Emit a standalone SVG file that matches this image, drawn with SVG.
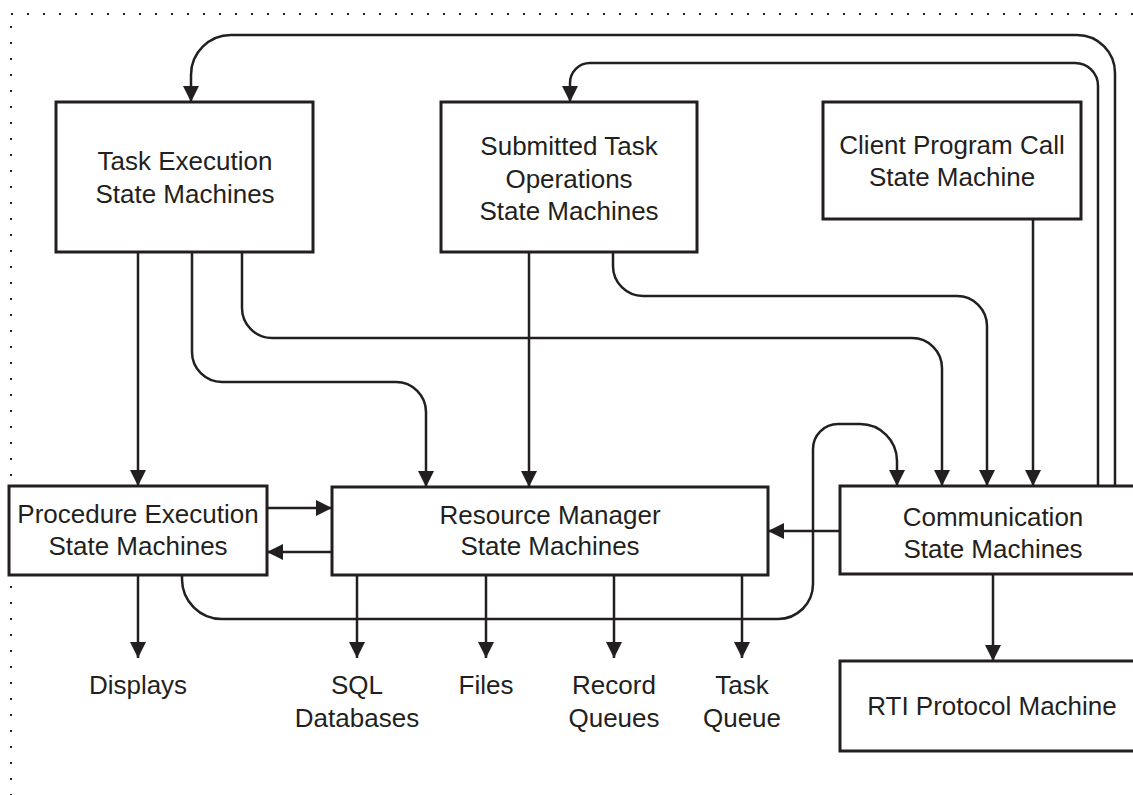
<svg xmlns="http://www.w3.org/2000/svg" width="1133" height="795" viewBox="0 0 1133 795">
  <style>
    .box { fill: #fff; stroke: #231f20; stroke-width: 3; }
    .lbl { font-family: "Liberation Sans", Arial, sans-serif; font-size: 26px; fill: #231f20; text-anchor: middle; }
    .con { fill: none; stroke: #231f20; stroke-width: 2.5; }
    .arr { marker-end: url(#ah); }
    .dots { fill: none; stroke: #231f20; stroke-width: 2; stroke-dasharray: 2 14; }
  </style>
  <defs>
    <marker id="ah" markerUnits="userSpaceOnUse" markerWidth="16" markerHeight="16" refX="16" refY="8" orient="auto">
      <path d="M0,0 L16,8 L0,16 z" fill="#231f20"/>
    </marker>
  </defs>
  <rect width="1133" height="795" fill="#fff"/>
  <g id="border">
    <path class="dots" d="M11,14 L1133,14"/>
    <path class="dots" d="M11,26 L11,795"/>
  </g>

  <g id="connectors">
    <path class="con arr" d="M1115,486 L1115,73 A38,38 0 0 0 1077,35 L231,35 A40,40 0 0 0 191,75 L191,102"/>
    <path class="con arr" d="M1098,486 L1098,86 A23,23 0 0 0 1075,63 L590,63 A20,20 0 0 0 570,83 L570,102"/>
    <path class="con arr" d="M138,252 L138,486"/>
    <path class="con arr" d="M192,252 L192,352 A30,30 0 0 0 222,382 L396,382 A30,30 0 0 1 426,412 L426,487"/>
    <path class="con arr" d="M242,252 L242,308 A30,30 0 0 0 272,338 L912,338 A30,30 0 0 1 942,368 L942,486"/>
    <path class="con arr" d="M529,252 L529,487"/>
    <path class="con arr" d="M613,252 L613,266 A30,30 0 0 0 643,296 L957,296 A30,30 0 0 1 987,326 L987,486"/>
    <path class="con arr" d="M1033,219 L1033,486"/>
    <path class="con arr" d="M182,575 L182,579 A40,40 0 0 0 222,619 L778,619 A35,35 0 0 0 813,584 L813,449 A25,25 0 0 1 838,424 L860,424 A37,37 0 0 1 897,461 L897,486"/>
    <path class="con arr" d="M267,508 L332,508"/>
    <path class="con arr" d="M332,552 L267,552"/>
    <path class="con arr" d="M840,531 L768,531"/>
    <path class="con arr" d="M138,575 L138,658"/>
    <path class="con arr" d="M357,575 L357,658"/>
    <path class="con arr" d="M486,575 L486,658"/>
    <path class="con arr" d="M614,575 L614,658"/>
    <path class="con arr" d="M742,575 L742,658"/>
    <path class="con arr" d="M993,574 L993,661"/>
  </g>

  <g id="task-execution">
    <rect class="box" x="56" y="102" width="257" height="150"/>
    <text class="lbl" x="185" y="170">Task Execution</text>
    <text class="lbl" x="185" y="203">State Machines</text>
  </g>
  <g id="submitted-task">
    <rect class="box" x="441" y="102" width="256" height="150"/>
    <text class="lbl" x="569" y="155">Submitted Task</text>
    <text class="lbl" x="569" y="188">Operations</text>
    <text class="lbl" x="569" y="220">State Machines</text>
  </g>
  <g id="client-program">
    <rect class="box" x="823" y="102" width="258" height="117"/>
    <text class="lbl" x="952" y="154">Client Program Call</text>
    <text class="lbl" x="952" y="186">State Machine</text>
  </g>
  <g id="procedure-execution">
    <rect class="box" x="9" y="486" width="258" height="89"/>
    <text class="lbl" x="138" y="523">Procedure Execution</text>
    <text class="lbl" x="138" y="555">State Machines</text>
  </g>
  <g id="resource-manager">
    <rect class="box" x="332" y="487" width="436" height="88"/>
    <text class="lbl" x="550" y="524">Resource Manager</text>
    <text class="lbl" x="550" y="555">State Machines</text>
  </g>
  <g id="communication">
    <rect class="box" x="840" y="486" width="320" height="88"/>
    <text class="lbl" x="993" y="526">Communication</text>
    <text class="lbl" x="993" y="558">State Machines</text>
  </g>
  <g id="rti-protocol">
    <rect class="box" x="840" y="661" width="320" height="90"/>
    <text class="lbl" x="992" y="715">RTI Protocol Machine</text>
  </g>
  <g id="displays"><text class="lbl" x="138" y="694">Displays</text></g>
  <g id="sql-databases"><text class="lbl" x="357" y="694">SQL</text><text class="lbl" x="357" y="727">Databases</text></g>
  <g id="files"><text class="lbl" x="486" y="694">Files</text></g>
  <g id="record-queues"><text class="lbl" x="614" y="694">Record</text><text class="lbl" x="614" y="727">Queues</text></g>
  <g id="task-queue"><text class="lbl" x="742" y="694">Task</text><text class="lbl" x="742" y="727">Queue</text></g>
</svg>
